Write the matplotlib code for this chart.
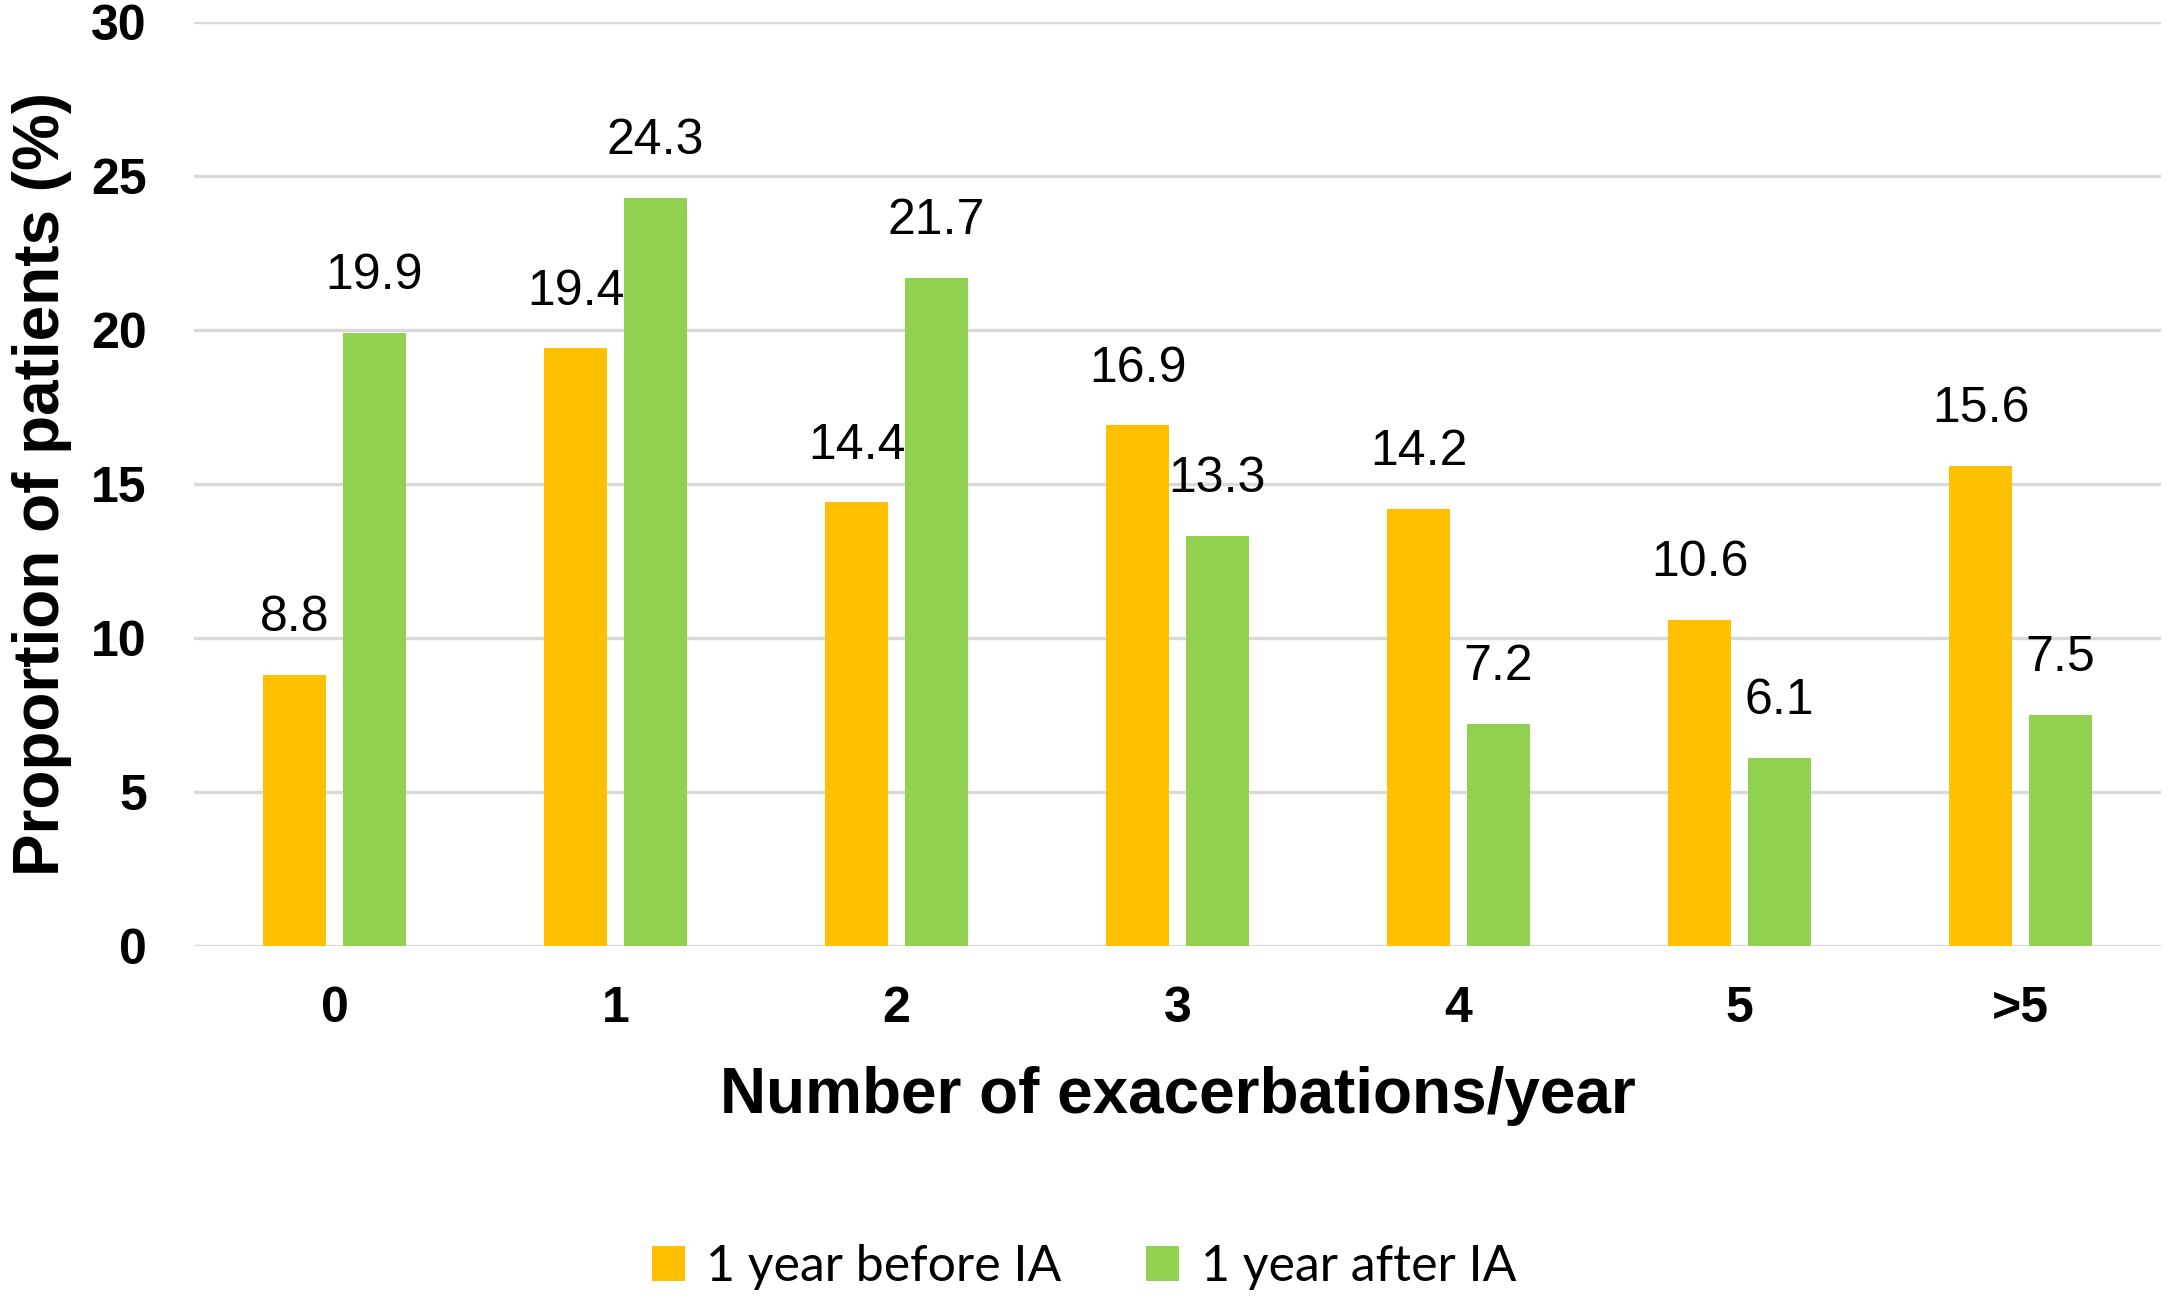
import matplotlib
matplotlib.use("Agg")
import matplotlib.pyplot as plt
from matplotlib.patches import Patch
import numpy as np

categories = ["0", "1", "2", "3", "4", "5", ">5"]
before_ia = [8.8, 19.4, 14.4, 16.9, 14.2, 10.6, 15.6]
after_ia = [19.9, 24.3, 21.7, 13.3, 7.2, 6.1, 7.5]
series_names = ["1 year before IA", "1 year after IA"]
y_ticks = [0, 5, 10, 15, 20, 25, 30]

ORANGE = "#FFC000"
GREEN = "#92D050"
GRID = "#D9D9D9"

W, H = 2175, 1301
fig = plt.figure(figsize=(W / 100, H / 100), dpi=100)
ax_left, ax_right, ax_top, ax_bot = 194, 2161, 22, 946
ax = fig.add_axes([ax_left / W, 1 - ax_bot / H, (ax_right - ax_left) / W, (ax_bot - ax_top) / H])

x = np.arange(len(categories))
bw = 0.225
off = 0.142
b1 = ax.bar(x - off, before_ia, width=bw, color=ORANGE, zorder=3)
b2 = ax.bar(x + off, after_ia, width=bw, color=GREEN, zorder=3)

for bars, vals in ((b1, before_ia), (b2, after_ia)):
    for rect, v in zip(bars, vals):
        ax.annotate(f"{v:.1f}", (rect.get_x() + rect.get_width() / 2, v),
                    xytext=(0, 41), textcoords="offset points",
                    ha="center", va="center", fontsize=36,
                    family="Liberation Sans", color="black", zorder=4)

ax.set_xlim(-0.5, len(categories) - 0.5)
ax.set_ylim(0, 30)
ax.set_yticks(y_ticks)
ax.set_xticks(x)
ax.set_xticklabels(categories)
for lab in ax.get_xticklabels() + ax.get_yticklabels():
    lab.set_family("Liberation Sans")
    lab.set_fontweight("bold")
    lab.set_fontsize(36)
ax.tick_params(axis="both", length=0)
ax.tick_params(axis="y", pad=34)
ax.tick_params(axis="x", pad=29)
ax.grid(axis="y", color=GRID, linewidth=2.4, zorder=0)
ax.set_axisbelow(True)
for s in ax.spines.values():
    s.set_visible(False)

ax.set_xlabel("Number of exacerbations/year", fontsize=46, fontweight="bold",
              family="Liberation Sans", va="center")
ax.xaxis.set_label_coords(0.5, (ax_bot - 1096) / (ax_bot - ax_top))
ax.set_ylabel("Proportion of patients (%)", fontsize=46, fontweight="bold",
              family="Liberation Sans", va="center")
ax.yaxis.set_label_coords((42 - ax_left) / (ax_right - ax_left), 0.5)

handles = [Patch(facecolor=ORANGE, edgecolor="none"), Patch(facecolor=GREEN, edgecolor="none")]
fig.legend(handles, series_names, loc="center", bbox_to_anchor=(1084 / W, 1 - 1267 / H),
           ncol=2, frameon=False, prop={"family": "Lato", "size": 36},
           handlelength=0.66, handleheight=0.72, handletextpad=0.43, columnspacing=1.7)

fig.savefig("out.png", dpi=100)
